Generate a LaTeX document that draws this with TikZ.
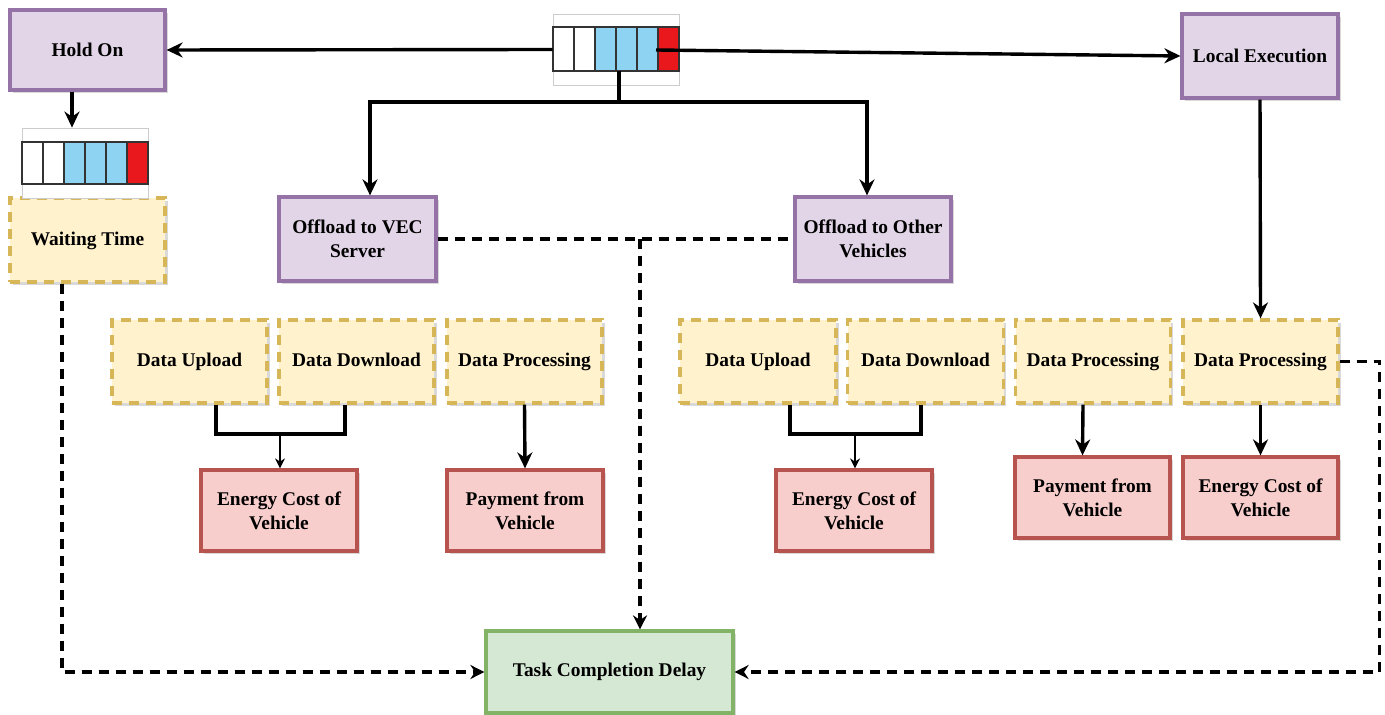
\documentclass[tikz,border=0pt]{standalone}
\usepackage{fontspec}
\setmainfont{Liberation Serif}
\usetikzlibrary{arrows.meta,shadows}
\definecolor{purF}{HTML}{E1D5E7}
\definecolor{purD}{HTML}{9673A6}
\definecolor{yelF}{HTML}{FFF2CC}
\definecolor{yelD}{HTML}{D6B656}
\definecolor{redF}{HTML}{F8CECC}
\definecolor{redD}{HTML}{B85450}
\definecolor{grnF}{HTML}{D5E8D4}
\definecolor{grnD}{HTML}{82B366}
\definecolor{qblue}{HTML}{8FD3F2}
\definecolor{qred}{HTML}{E8181C}
\definecolor{cellD}{HTML}{333333}
\tikzset{
  base/.style={rectangle, align=center, font=\fontsize{9.7}{12}\selectfont\bfseries,
    line width=1.6pt, inner sep=2pt,
    drop shadow={opacity=0.3, shadow xshift=1.3pt, shadow yshift=-1.3pt}},
  pbox/.style={base, draw=purD, fill=purF},
  ybox/.style={base, draw=yelD, fill=yelF, dash pattern=on 5pt off 3.5pt,
    text height=1.6ex, text depth=0.5ex},
  rbox/.style={base, draw=redD, fill=redF},
  gbox/.style={base, draw=grnD, fill=grnF},
  qframe/.style={rectangle, draw=black!20, line width=0.4pt, fill=white, inner sep=0pt},
  qcell/.style={draw=cellD, line width=0.7pt},
  conn/.style={line width=1.7pt, -{Stealth[length=8pt,width=7.5pt]}},
  thinconn/.style={line width=1pt, -{Stealth[length=5pt,width=5pt]}},
  bracket/.style={line width=1.6pt},
  dconn/.style={line width=1.6pt, dash pattern=on 5pt off 3.5pt},
  dtip/.style={-{Stealth[length=7pt,width=7pt]}},
}
\begin{document}
\begin{tikzpicture}[x=0.5pt, y=-0.5pt]
\useasboundingbox (0,0) rectangle (1385,715);

% purple decision boxes
\node[pbox, minimum width=77.5pt, minimum height=40pt] (hold) at (87.5,50) {Hold On};
\node[pbox, minimum width=78pt, minimum height=42pt] (local) at (1260,56) {Local Execution};
\node[pbox, minimum width=78.5pt, minimum height=42pt] (vec) at (357.5,239) {Offload to VEC\\Server};
\node[pbox, minimum width=78pt, minimum height=42pt] (other) at (873,239) {Offload to Other\\Vehicles};

% waiting time
\node[ybox, minimum width=77.5pt, minimum height=42pt] (wait) at (87.5,240) {Waiting Time};

% yellow row
\node[ybox, minimum width=77.5pt, minimum height=41.5pt] (du1) at (189.5,361.5) {Data Upload};
\node[ybox, minimum width=77.5pt, minimum height=41.5pt] (dd1) at (356.5,361.5) {Data Download};
\node[ybox, minimum width=77.5pt, minimum height=41.5pt] (dp1) at (524.5,361.5) {Data Processing};
\node[ybox, minimum width=78pt, minimum height=41.5pt] (du2) at (758,361.5) {Data Upload};
\node[ybox, minimum width=78pt, minimum height=41.5pt] (dd2) at (925.5,361.5) {Data Download};
\node[ybox, minimum width=77.5pt, minimum height=41.5pt] (dp2) at (1093,361.5) {Data Processing};
\node[ybox, minimum width=77.5pt, minimum height=41.5pt] (dp3) at (1260.5,361.5) {Data Processing};

% red row
\node[rbox, minimum width=78pt, minimum height=40.5pt] (ec1) at (279,510.5) {Energy Cost of\\Vehicle};
\node[rbox, minimum width=78pt, minimum height=40.5pt] (pay1) at (525,510.5) {Payment from\\Vehicle};
\node[rbox, minimum width=78pt, minimum height=40.5pt] (ec2) at (854,510.5) {Energy Cost of\\Vehicle};
\node[rbox, minimum width=77.5pt, minimum height=40.5pt] (pay2) at (1092.5,497.5) {Payment from\\Vehicle};
\node[rbox, minimum width=77.5pt, minimum height=40.5pt] (ec3) at (1260.5,497.5) {Energy Cost of\\Vehicle};

% task completion
\node[gbox, minimum width=123.5pt, minimum height=41pt] (task) at (609.5,672) {Task Completion Delay};

% queues
\node[qframe, minimum width=63pt, minimum height=35.5pt] (q1) at (616,49.5) {};
\foreach \i/\c in {0/white,1/white,2/qblue,3/qblue,4/qblue,5/qred}
  \filldraw[qcell, fill=\c] (553+21*\i,27) rectangle ++(21,44);
\node[qframe, minimum width=63pt, minimum height=35pt] (q2) at (85,163) {};
\foreach \i/\c in {0/white,1/white,2/qblue,3/qblue,4/qblue,5/qred}
  \filldraw[qcell, fill=\c] (22+21*\i,142) rectangle ++(21,42);

\coordinate (q1r) at (656,50);
\coordinate (q1b) at (619,71);
\coordinate (split) at (619,102);
\coordinate (mid) at (640,239);
\coordinate (j1) at (280,434);
\coordinate (j2) at (855,434);

% solid connectors
\draw[conn] (q1.west) -- (hold.east);
\draw[conn] (q1r) -- (local.west);
\draw[bracket] (q1b) -- (split);
\draw[conn] (split) -| ([xshift=6.25pt]vec.north);
\draw[conn] (split) -| ([xshift=-3pt]other.north);
\draw[conn] ([xshift=-7.75pt]hold.south) -- ([xshift=-6.5pt]q2.north);
\draw[conn] (local.south) -- (dp3.north);

\draw[bracket] ([xshift=13.25pt]du1.south) |- (j1) -| ([xshift=-5.75pt]dd1.south);
\draw[thinconn] (j1) -- (j1 |- ec1.north);
\draw[conn] (dp1.south) -- (pay1.north);
\draw[bracket] ([xshift=16pt]du2.south) |- (j2) -| ([xshift=-2.25pt]dd2.south);
\draw[thinconn] (j2) -- (j2 |- ec2.north);
\draw[conn] ([xshift=-5pt]dp2.south) -- ([xshift=-5pt]pay2.north);
\draw[conn] (dp3.south) -- (ec3.north);

% dashed connectors
\draw[dconn] (vec.east) -- (other.west);
\draw[dconn, dtip] (mid) -- (mid |- task.north);
\draw[dconn, dtip] ([xshift=-12.75pt]wait.south) |- (task.west);
\draw[dconn, dtip] (dp3.east) -- ++(20pt,0) |- (task.east);
\end{tikzpicture}
\end{document}
